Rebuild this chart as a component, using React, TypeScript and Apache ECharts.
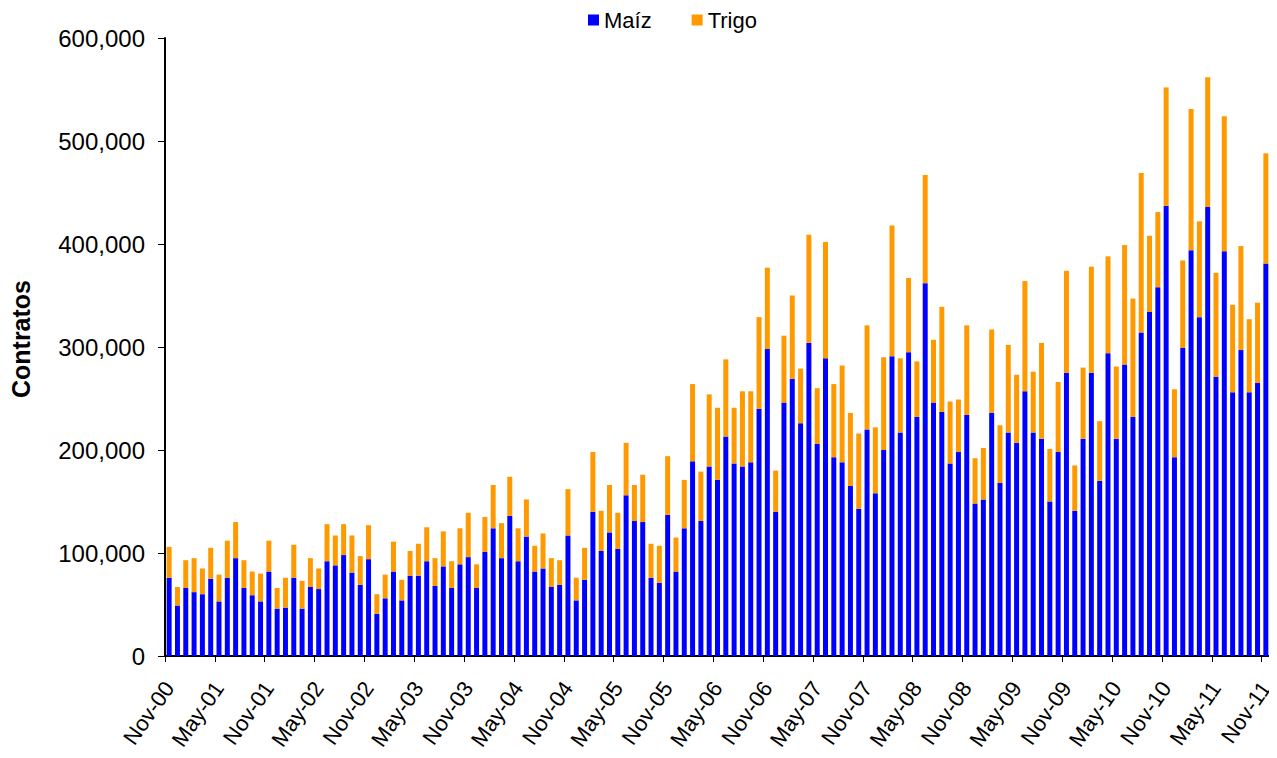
import React, { useEffect, useRef } from "react";
import * as echarts from "echarts";

const MONTHS = ["Jan", "Feb", "Mar", "Apr", "May", "Jun", "Jul", "Aug", "Sep", "Oct", "Nov", "Dec"];
// Nov-2000 .. Nov-2011
const categories: string[] = [];
for (let i = 0; i < 133; i++) {
  const m = (10 + i) % 12;
  const y = 2000 + Math.floor((10 + i) / 12);
  categories.push(MONTHS[m] + "-" + String(y % 100).padStart(2, "0"));
}

// values in thousands of contracts
const maizK = [
  76, 49, 66, 62, 60, 75, 53, 76, 95, 66, 59, 53,
  82, 46, 47, 76, 46, 67, 65, 92, 88, 98, 81, 69,
  94, 41, 56, 82, 54, 78, 78, 92, 68, 87, 66, 89,
  96, 66, 101, 124, 95, 136, 92, 116, 82, 85, 67, 69,
  117, 54, 74, 140, 102, 120, 104, 156, 131, 130, 76, 71,
  137, 82, 124, 189, 131, 184, 171, 213, 187, 184, 188, 240,
  298, 140, 246, 269, 226, 304, 206, 289, 193, 188, 165, 143,
  220, 158, 200, 291, 217, 295, 232, 362, 246, 237, 187, 198,
  234, 148, 152, 236, 168, 217, 207, 257, 217, 211, 150, 198,
  275, 141, 211, 275, 170, 294, 211, 283, 232, 314, 334, 358,
  437, 193, 299, 394, 329, 436, 271, 393, 256, 297, 256, 265,
  381,
];
const trigoK = [
  30, 18, 27, 33, 25, 30, 26, 36, 35, 27, 23, 27,
  30, 20, 29, 32, 27, 28, 20, 36, 29, 30, 36, 28,
  33, 19, 23, 29, 20, 24, 31, 33, 27, 34, 26, 35,
  43, 23, 34, 42, 34, 38, 32, 36, 25, 34, 28, 24,
  45, 22, 31, 58, 39, 46, 35, 51, 35, 46, 33, 36,
  57, 33, 47, 75, 48, 70, 70, 75, 54, 73, 69, 89,
  79, 40, 65, 81, 53, 105, 54, 113, 71, 94, 71, 73,
  101, 64, 90, 127, 72, 72, 54, 105, 61, 102, 60, 51,
  87, 44, 50, 81, 56, 85, 66, 107, 59, 93, 51, 68,
  99, 44, 69, 103, 58, 94, 70, 116, 115, 155, 74, 73,
  115, 66, 85, 137, 93, 126, 101, 131, 85, 101, 71, 78,
  107,
];

const yTicks = [0, 100000, 200000, 300000, 400000, 500000, 600000];

const FONT = "'Liberation Sans', Arial, sans-serif";

export default function App() {
  const ref = useRef<HTMLDivElement>(null);
  useEffect(() => {
    if (!ref.current) return;
    const chart = echarts.init(ref.current, null, { renderer: "svg" });
    chart.setOption({
      animation: false,
      backgroundColor: "#ffffff",
      textStyle: { fontFamily: FONT, color: "#000" },
      legend: {
        top: 1,
        left: 580,
        padding: 0,
        icon: "rect",
        itemWidth: 11,
        itemHeight: 11,
        itemGap: 40,
        textStyle: { fontFamily: FONT, fontSize: 22, color: "#000" },
        data: ["Maíz", "Trigo"],
      },
      grid: {
        left: 157,
        right: 7,
        top: 30,
        bottom: 102,
        containLabel: false,
        outerBoundsMode: "none",
      },
      xAxis: {
        type: "category",
        data: categories,
        boundaryGap: true,
        axisLine: { lineStyle: { color: "#000", width: 2 } },
        axisTick: { show: true, interval: 5, length: 6, lineStyle: { color: "#000", width: 1 } },
        axisLabel: {
          interval: 5,
          rotate: 55,
          fontSize: 22,
          fontFamily: FONT,
          color: "#000",
          margin: 28,
        },
        splitLine: { show: false },
      },
      yAxis: {
        type: "value",
        min: yTicks[0],
        max: yTicks[yTicks.length - 1],
        interval: 100000,
        name: "Contratos",
        nameLocation: "middle",
        nameGap: 132,
        nameRotate: 90,
        nameTextStyle: {
          fontFamily: FONT,
          fontSize: 25,
          fontWeight: "bold",
          color: "#000",
          padding: [0, 0, 0, 16],
        },
        axisLine: { show: true, lineStyle: { color: "#000", width: 2 } },
        axisTick: { show: true, length: 7, lineStyle: { color: "#000" } },
        axisLabel: {
          fontSize: 24,
          fontFamily: FONT,
          color: "#000",
          margin: 20,
          formatter: (v: number) => v.toLocaleString("en-US"),
        },
        splitLine: { show: false },
      },
      series: [
        {
          name: "Maíz",
          type: "bar",
          stack: "total",
          barCategoryGap: "40%",
          itemStyle: { color: "#0000FF" },
          data: maizK.map((v) => v * 1000),
        },
        {
          name: "Trigo",
          type: "bar",
          stack: "total",
          barCategoryGap: "40%",
          itemStyle: { color: "#FF9900" },
          data: trigoK.map((v) => v * 1000),
        },
      ],
    });
    return () => chart.dispose();
  }, []);
  return <div ref={ref} style={{ width: 1269, height: 750 }} />;
}
